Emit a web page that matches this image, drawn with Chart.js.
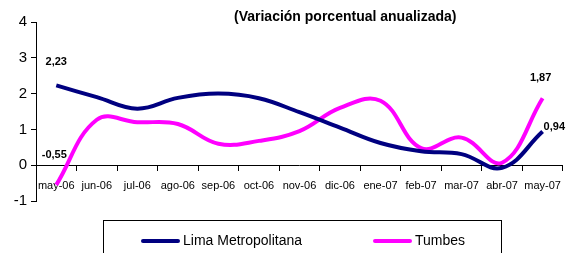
<!DOCTYPE html>
<html>
<head>
<meta charset="utf-8">
<script src="https://cdn.jsdelivr.net/npm/chart.js@4.4.1/dist/chart.umd.min.js"></script>
<style>
    html, body { margin: 0; padding: 0; background: #fff; }
    #wrap { position: relative; width: 570px; height: 253px; overflow: hidden; font-family: 'Liberation Sans Narrow', 'Arial Narrow', 'Liberation Sans', sans-serif; }
    #chart { position: absolute; left: 0; top: 0; }
    #titulo { position: absolute; left: 234px; top: 8px; font-size: 14px; font-weight: bold; color: #000; white-space: nowrap; }
    #leyenda { position: absolute; left: 103px; top: 220px; width: 399px; height: 40px; border: 1px solid #000; box-sizing: border-box; }
    .leg-item { position: absolute; top: 10px; font-size: 14px; color: #000; white-space: nowrap; line-height: 18px; }
    .leg-sq { display: inline-block; width: 39px; height: 4px; border-radius: 2px; vertical-align: middle; margin-right: 3px; }
</style>
</head>
<body>
<div id="wrap">
    <canvas id="chart" width="570" height="253"></canvas>
    <div id="titulo">(Variación porcentual anualizada)</div>
    <div id="leyenda"></div>
</div>
<script>
'use strict';

// Datos
var meses = ['may-06', 'jun-06', 'jul-06', 'ago-06', 'sep-06', 'oct-06', 'nov-06',
             'dic-06', 'ene-07', 'feb-07', 'mar-07', 'abr-07', 'may-07'];
var lima = [2.23, 1.9, 1.58, 1.88, 2.0, 1.87, 1.48, 1.05, 0.62, 0.39, 0.31, -0.07, 0.94];
var tumbes = [-0.55, 1.27, 1.2, 1.15, 0.6, 0.68, 0.95, 1.6, 1.8, 0.48, 0.77, 0.07, 1.87];
var yTicks = [-1, 0, 1, 2, 3, 4];

var COLORS = { lima: '#000080', tumbes: '#ff00ff' };
var FONT = "'Liberation Sans Narrow', 'Arial Narrow', 'Liberation Sans', sans-serif";

function fmt(v) {
    return v.toFixed(2).replace('.', ',');
}

// etiquetas de los extremos
var etiquetas = {
    id: 'etiquetas',
    afterDatasetsDraw: function(chart) {
        var ctx = chart.ctx;
        var mL = chart.getDatasetMeta(0).data;
        var mT = chart.getDatasetMeta(1).data;
        var last = meses.length - 1;
        ctx.save();
        ctx.fillStyle = '#000';
        ctx.font = 'bold 11px ' + FONT;
        ctx.textBaseline = 'middle';
        ctx.textAlign = 'center';
        ctx.fillText(fmt(lima[0]), mL[0].x, mL[0].y - 23);
        ctx.fillText(fmt(tumbes[0]), mT[0].x - 2, mT[0].y - 30);
        ctx.fillText(fmt(tumbes[last]), mT[last].x - 2, mT[last].y - 20);
        ctx.textAlign = 'left';
        ctx.fillText(fmt(lima[last]), mL[last].x + 1, mL[last].y - 5);
        ctx.restore();
    }
};

var chart = new Chart(document.getElementById('chart'), {
    type: 'line',
    data: {
        labels: meses,
        datasets: [
            {
                label: 'Lima Metropolitana',
                data: lima,
                borderColor: COLORS.lima,
                borderWidth: 4,
                tension: 0.4,
                pointRadius: 0,
                fill: false
            },
            {
                label: 'Tumbes',
                data: tumbes,
                borderColor: COLORS.tumbes,
                borderWidth: 4,
                tension: 0.4,
                pointRadius: 0,
                fill: false
            }
        ]
    },
    options: {
        responsive: false,
        animation: false,
        layout: { padding: { left: 0, right: 1, top: 22, bottom: 52 } },
        plugins: {
            legend: { display: false },
            tooltip: { enabled: false }
        },
        scales: {
            x: {
                type: 'category',
                offset: true,
                position: { y: 0 },
                grid: { display: true, offset: true, drawOnChartArea: false, tickLength: 5, color: '#000' },
                border: { display: true, color: '#000', width: 1 },
                ticks: { color: '#000', font: { family: FONT, size: 11 }, maxRotation: 0, autoSkip: false, padding: 9 }
            },
            y: {
                min: -1,
                max: 4,
                afterFit: function(scale) { scale.width = 36; },
                afterBuildTicks: function(scale) {
                    scale.ticks = yTicks.map(function(v) { return { value: v }; });
                },
                grid: { display: true, drawOnChartArea: false, tickLength: 5, color: '#000' },
                border: { display: true, color: '#000', width: 1 },
                ticks: { color: '#000', font: { family: FONT, size: 15 }, padding: 4 }
            }
        }
    },
    plugins: [etiquetas]
});

// Leyenda
var leg = document.getElementById('leyenda');
var posiciones = [37, 269];
chart.data.datasets.forEach(function(ds, i) {
    var div = document.createElement('div');
    div.className = 'leg-item';
    div.style.left = posiciones[i] + 'px';
    div.innerHTML = '<span class="leg-sq" style="background:' + ds.borderColor + '"></span>' + ds.label;
    leg.appendChild(div);
});
</script>
</body>
</html>
